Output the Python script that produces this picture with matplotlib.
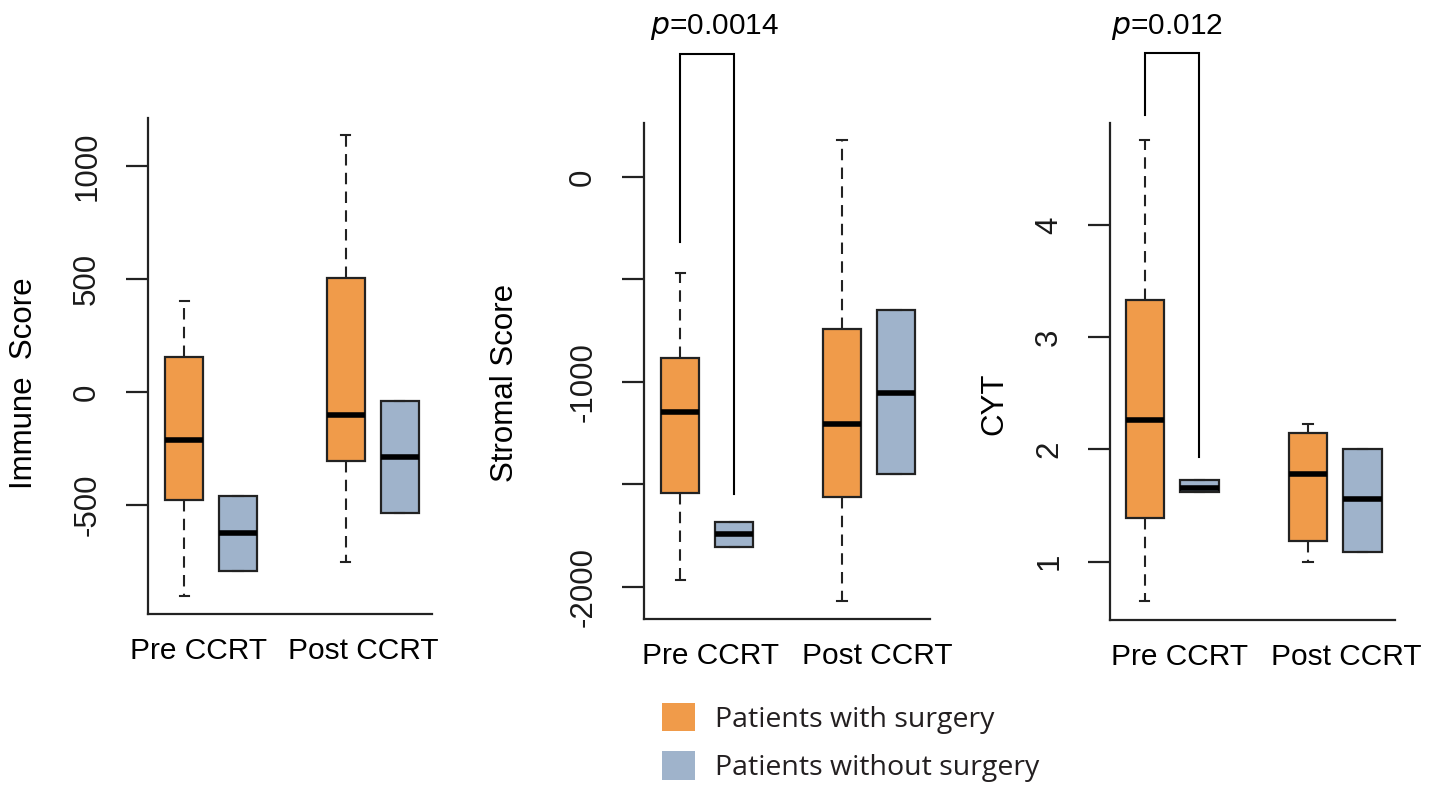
import matplotlib
matplotlib.use("Agg")
import matplotlib.pyplot as plt
from matplotlib.patches import Patch

plt.rcParams['font.family'] = ['Liberation Sans', 'DejaVu Sans']

# ---------------- data ----------------
groups = ["Pre CCRT", "Post CCRT"]
series = ["Patients with surgery", "Patients without surgery"]

# each stat list: [lower whisker, Q1, median, Q3, upper whisker]
immune_pre_with = [-903, -478, -212, 155, 403]
immune_pre_without = [-792, -792, -624, -460, -460]
immune_post_with = [-752, -305, -102, 504, 1137]
immune_post_without = [-535, -535, -288, -40, -40]

stromal_pre_with = [-1966, -1541, -1146, -883, -468]
stromal_pre_without = [-1805, -1805, -1741, -1683, -1683]
stromal_post_with = [-2068, -1561, -1205, -741, 180]
stromal_post_without = [-1449, -1449, -1054, -649, -649]

cyt_pre_with = [0.65, 1.39, 2.26, 3.33, 4.76]
cyt_pre_without = [1.62, 1.62, 1.66, 1.73, 1.73]
cyt_post_with = [1.00, 1.18, 1.78, 2.15, 2.23]
cyt_post_without = [1.09, 1.09, 1.56, 2.00, 2.00]

immune_ticks = [-500, 0, 500, 1000]
immune_ticklabels = ["-500", "0", "500", "1000"]
stromal_ticks = [-2000, -1500, -1000, -500, 0]
stromal_ticklabels = ["-2000", "", "-1000", "", "0"]
cyt_ticks = [1, 2, 3, 4]
cyt_ticklabels = ["1", "2", "3", "4"]

pvalues = ["", "0.0014", "0.012"]
# bracket: [left bottom, top, right bottom] in data units
stromal_bracket = [-317, 600, -1546]
cyt_bracket = [4.98, 5.53, 1.93]

ylabels = ["Immune  Score", "Stromal Score", "CYT"]

# ---------------- style ----------------
ORANGE = "#F09B4A"
BLUE = "#9FB3CB"
W, H = 1440, 795
fig = plt.figure(figsize=(W / 100, H / 100), dpi=100)


def px_axes(left, right, top, bottom):
    return fig.add_axes([left / W, 1 - bottom / H, (right - left) / W, (bottom - top) / H])


positions = [1, 2, 4, 5]
colors = [ORANGE, BLUE, ORANGE, BLUE]


def draw_panel(ax, stats_list, ylim, xlim, ticks, ticklabels):
    stats = []
    for s in stats_list:
        stats.append(dict(whislo=s[0], q1=s[1], med=s[2], q3=s[3], whishi=s[4], fliers=[]))
    bp = ax.bxp(stats, positions=positions, widths=0.71, patch_artist=True,
                showfliers=False, capwidths=0.17,
                boxprops=dict(linewidth=1.6, edgecolor="#222222"),
                medianprops=dict(color="black", linewidth=4.0, solid_capstyle="butt"),
                whiskerprops=dict(color="#222222", linewidth=1.5, linestyle=(0, (5.5, 3.5))),
                capprops=dict(color="#222222", linewidth=1.5))
    for patch, c in zip(bp["boxes"], colors):
        patch.set_facecolor(c)
    ax.set_xlim(*xlim)
    ax.set_ylim(*ylim)
    ax.set_yticks(ticks)
    ax.set_yticklabels(ticklabels, rotation=90, va="center", fontsize=22.5, color="#1a1a1a")
    ax.set_xticks([])
    for sp in ["top", "right"]:
        ax.spines[sp].set_visible(False)
    for sp in ["left", "bottom"]:
        ax.spines[sp].set_linewidth(1.6)
        ax.spines[sp].set_color("#222222")
    ax.tick_params(axis="y", length=16, width=1.6, color="#222222", pad=17)


ax1 = px_axes(148, 432, 118, 614)
draw_panel(ax1, [immune_pre_with, immune_pre_without, immune_post_with, immune_post_without],
           (-982, 1212), (0.33, 5.6), immune_ticks, immune_ticklabels)
ax2 = px_axes(644, 930, 123, 619)
draw_panel(ax2, [stromal_pre_with, stromal_pre_without, stromal_post_with, stromal_post_without],
           (-2156, 263), (0.33, 5.63), stromal_ticks, stromal_ticklabels)
ax3 = px_axes(1110, 1395, 123, 620)
draw_panel(ax3, [cyt_pre_with, cyt_pre_without, cyt_post_with, cyt_post_without],
           (0.48, 4.91), (0.36, 5.6), cyt_ticks, cyt_ticklabels)

# group labels
for ax, xs in [(ax1, (1.26, 4.33)), (ax2, (1.57, 4.65)), (ax3, (1.64, 4.7))]:
    for g, x in zip(groups, xs):
        ax.text(x, -0.075, g, transform=ax.get_xaxis_transform(), ha="center", va="center",
                fontsize=21.5, color="black")

# y labels
fig.text(24 / W, 1 - 383 / H, ylabels[0], rotation=90, ha="center", va="center", fontsize=22.5)
fig.text(505 / W, 1 - 383 / H, ylabels[1], rotation=90, ha="center", va="center", fontsize=22.5)
fig.text(994 / W, 1 - 404 / H, ylabels[2], rotation=90, ha="center", va="center", fontsize=22.5)


# significance brackets
def bracket(ax, vals, pv, text_x_px):
    x0, x1 = positions[0], positions[1]
    ax.plot([x0, x0, x1, x1], [vals[0], vals[1], vals[1], vals[2]], color="black",
            linewidth=1.5, clip_on=False, solid_joinstyle="miter")
    fig.text(text_x_px / W, 1 - 27 / H, r"$\it{p}$" + "=" + pv, ha="center", va="center",
             fontsize=21.5)


bracket(ax2, stromal_bracket, pvalues[1], 714)
bracket(ax3, cyt_bracket, pvalues[2], 1167)

# legend
handles = [Patch(facecolor=ORANGE, edgecolor="none"), Patch(facecolor=BLUE, edgecolor="none")]
leg = fig.legend(handles, series, loc="upper left", bbox_to_anchor=(662 / W, 1 - 703 / H),
                 frameon=False, handlelength=1.15, handleheight=1.15, handletextpad=0.7,
                 labelspacing=0.62, borderaxespad=0, borderpad=0,
                 prop={"family": "Open Sans", "size": 20.5})
for t in leg.get_texts():
    t.set_color("#231f20")

fig.savefig("out.png", dpi=100)
